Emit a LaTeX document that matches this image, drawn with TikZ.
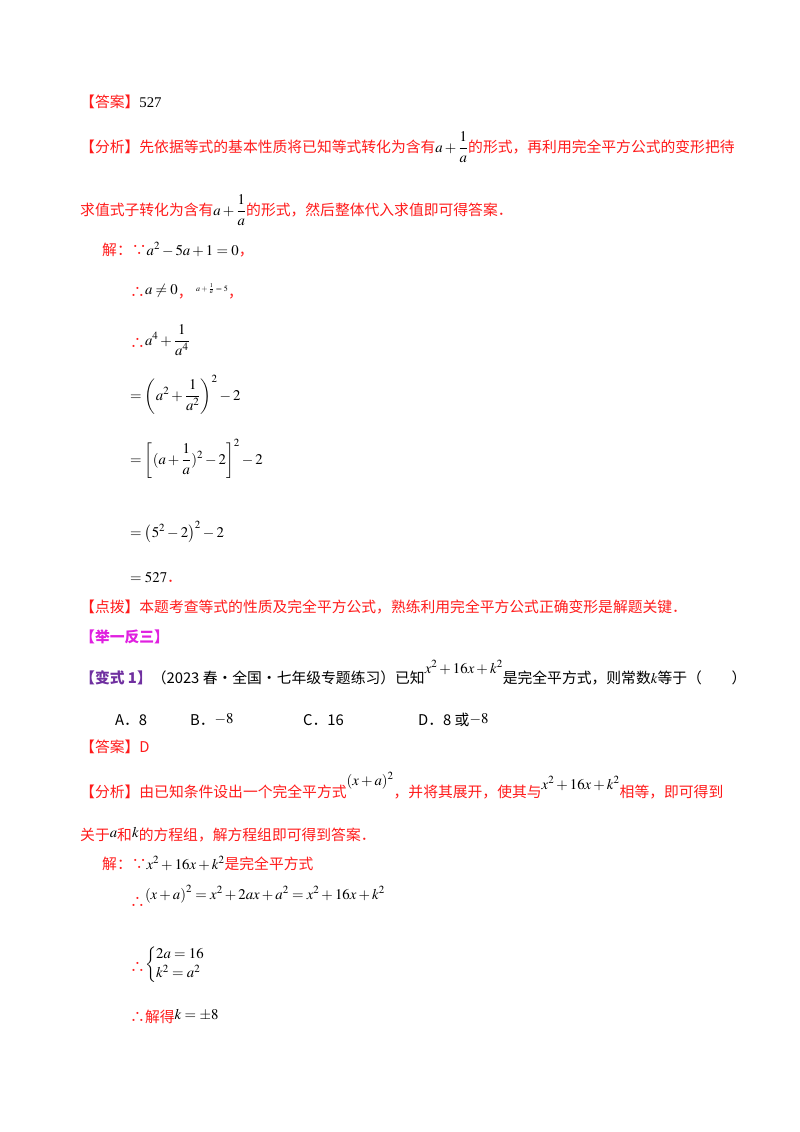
\documentclass[tikz,border=0pt]{standalone}
\usepackage{amsmath}
\usepackage{mathptmx}
\usepackage{fontspec}
\setmainfont{Liberation Serif}
\newfontfamily\cjk{Noto Sans CJK SC}
\definecolor{rd}{HTML}{FF1A1A}
\definecolor{pu}{HTML}{7030A0}
\definecolor{mg}{HTML}{E020E0}
\tikzset{t/.style={anchor=base west,inner sep=0pt,font=\fontsize{14.8}{16}\selectfont}}
\newcommand{\C}[1]{{\cjk #1}}
\begin{document}
\begin{tikzpicture}[x=1pt,y=-1pt]
\useasboundingbox (0,0) rectangle (800,1132);
\node[t] (l1) at (80,107) {\textcolor{rd}{\C{【答案】}}527};
\node[t,text=rd] (l2) at (80,152) {\C{【分析】先依据等式的基本性质将已知等式转化为含有}\textcolor{black}{$a+\dfrac{1}{a}$}\C{的形式，再利用完全平方公式的变形把待}};
\node[t,text=rd] (l3) at (80,215) {\C{求值式子转化为含有}\textcolor{black}{$a+\dfrac{1}{a}$}\C{的形式，然后整体代入求值即可得答案．}};
\node[t] (l4) at (102,255) {\textcolor{rd}{\C{解：∵}}$a^2-5a+1=0$\textcolor{rd}{\C{，}}};
\node[t] (l5) at (130,297) {\textcolor{rd}{\C{∴}}\raisebox{3pt}{$a\neq 0$}\textcolor{rd}{\C{，}}};
\node[t] (l5b) at (196,291) {\fontsize{8}{9}\selectfont$a+\frac{1}{a}=5$};
\node[t,text=rd] (l5c) at (228,297) {\C{，}};
\node[t] (l6) at (130,348) {\textcolor{rd}{\C{∴}}\raisebox{3pt}{$a^4+\dfrac{1}{a^4}$}};
\node[t] (l7) at (130,400) {$=\left(a^2+\dfrac{1}{a^2}\right)^2-2$};
\node[t] (l8) at (130,464) {$=\left[(a+\dfrac{1}{a})^2-2\right]^2-2$};
\node[t] (l9) at (130,537) {$=\left(5^2-2\right)^2-2$};
\node[t] (l10) at (130,582) {$=527$\textcolor{rd}{\C{．}}};
\node[t,text=rd] (l11) at (80,612) {\C{【点拨】本题考查等式的性质及完全平方公式，熟练利用完全平方公式正确变形是解题关键．}};
\node[t,text=mg] (l12) at (80,642) {\C{\bfseries【举一反三】}};
\node[t] (l13) at (80,683) {\textcolor{pu}{\C{\bfseries【变式 1】}}\C{（2023 春·全国·七年级专题练习）已知}\raisebox{10pt}{$x^2+16x+k^2$}\C{是完全平方式，则常数}$k$\C{等于（\quad\quad）}};
\node[t] (l14) at (115,725) {\C{A．8}};
\node[t] (l15) at (190,725) {\C{B．}\raisebox{2pt}{$-8$}};
\node[t] (l16) at (303,725) {\C{C．16}};
\node[t] (l17) at (418,725) {\C{D．8 或}\raisebox{2pt}{$-8$}};
\node[t,text=rd] (l18) at (80,752) {\C{【答案】D}};
\node[t,text=rd] (l19) at (80,797) {\C{【分析】由已知条件设出一个完全平方式}\textcolor{black}{\raisebox{12pt}{$(x+a)^2$}}\C{，并将其展开，使其与}\textcolor{black}{\raisebox{8pt}{$x^2+16x+k^2$}}\C{相等，即可得到}};
\node[t,text=rd] (l20) at (80,840) {\C{关于}\textcolor{black}{\raisebox{3pt}{$a$}}\C{和}\textcolor{black}{\raisebox{3pt}{$k$}}\C{的方程组，解方程组即可得到答案．}};
\node[t] (l21) at (102,869) {\textcolor{rd}{\C{解：∵}}$x^2+16x+k^2$\textcolor{rd}{\C{是完全平方式}}};
\node[t] (l22) at (130,907) {\textcolor{rd}{\C{∴}}\raisebox{8pt}{$\left(x+a\right)^2=x^2+2ax+a^2=x^2+16x+k^2$}};
\node[t] (l23) at (130,972) {\textcolor{rd}{\C{∴}}\raisebox{4pt}{$\begin{cases}2a=16\\k^2=a^2\end{cases}$}};
\node[t] (l24) at (130,1022) {\textcolor{rd}{\C{∴解得}}\raisebox{3pt}{$k=\pm 8$}};
\end{tikzpicture}
\end{document}
